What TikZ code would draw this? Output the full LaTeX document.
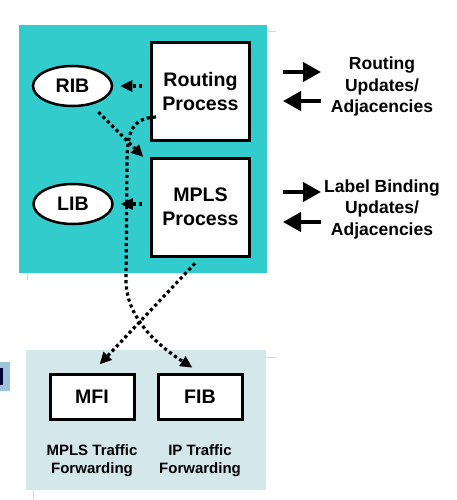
\documentclass[tikz,border=0pt]{standalone}
\usepackage{fontspec}
\setmainfont{Liberation Sans}
\usetikzlibrary{arrows.meta,shapes.geometric}
\definecolor{teal1}{HTML}{33CCCC}
\definecolor{lblue}{HTML}{D4E8EC}
\definecolor{pblue}{HTML}{9DC3DC}
\begin{document}
\begin{tikzpicture}[x=1pt,y=-1pt,
 boxn/.style={draw,line width=3pt,fill=white,align=center,font=\bfseries\fontsize{19.6}{23.5}\selectfont,minimum width=98pt,minimum height=98pt,inner sep=0},
 ell/.style={draw,ellipse,line width=2.5pt,fill=white,minimum width=79pt,minimum height=40pt,inner sep=0,font=\bfseries\fontsize{19.6}{22}\selectfont},
 fbox/.style={draw,line width=3pt,fill=white,minimum width=84pt,minimum height=45pt,inner sep=0,font=\bfseries\fontsize{19.6}{22}\selectfont},
 dotarr/.style={line width=3.2pt,dash pattern=on 3.2pt off 3pt,-{Triangle[length=12pt,width=11pt]}},
 bigarr/.style={line width=4pt,-{Triangle[length=18pt,width=19pt]}},
 rtext/.style={align=center,font=\bfseries\fontsize{17.5}{21.5}\selectfont},
 btext/.style={align=center,font=\bfseries\fontsize{15}{18}\selectfont},
 faint/.style={draw=black!15,line width=1pt}]
\useasboundingbox (0,0) rectangle (456,500);
% backgrounds
\fill[teal1] (19,25) rectangle (267,273);
\fill[lblue] (26,350) rectangle (266,490);
\fill[pblue] (0,362) rectangle (10,391);
\fill[black!80!blue] (0,368) rectangle (3,385);
\draw[faint] (267,32) -- (276,32);
\draw[faint] (27,273) -- (27,280);
\draw[faint] (266,357) -- (276,357);
\draw[faint] (33,490) -- (33,500);
% nodes
\node[boxn] (rp) at (200.5,91.5) {Routing\\Process};
\node[boxn] (mp) at (200.5,207) {MPLS\\Process};
\node[ell] (rib) at (72.5,86) {RIB};
\node[ell] (lib) at (73,204) {LIB};
\node[fbox] (mfi) at (92,396.5) {MFI};
\node[fbox] (fib) at (200,396.5) {FIB};
\node[btext] (t1) at (92,460.5) {MPLS Traffic\\Forwarding};
\node[btext] (t2) at (200,460.5) {IP Traffic\\Forwarding};
\node[rtext] (r1) at (382,86.5) {Routing\\Updates/\\Adjacencies};
\node[rtext] (r2) at (382,209) {Label Binding\\Updates/\\Adjacencies};
% big arrows
\coordinate (a1s) at (283,72); \coordinate (a1e) at (321,72);
\coordinate (a2s) at (321,101); \coordinate (a2e) at (283,101);
\coordinate (a3s) at (283,192); \coordinate (a3e) at (321,192);
\coordinate (a4s) at (321,222); \coordinate (a4e) at (283,222);
\draw[bigarr] (a1s) -- (a1e);
\draw[bigarr] (a2s) -- (a2e);
\draw[bigarr] (a3s) -- (a3e);
\draw[bigarr] (a4s) -- (a4e);
% dotted connectors
\draw[dotarr,shorten <=8pt,shorten >=7pt] (rp.west |- rib.east) -- (rib.east);
\draw[dotarr,shorten <=8pt,shorten >=7pt] (mp.west |- lib.east) -- (lib.east);
\draw[dotarr] (rib.south east) ++(-3,11) -- ++(45,45);
\coordinate (cs) at (156,117);
\draw[dotarr,shorten >=9pt] (cs) .. controls (130,118) and (127,135) .. (127,165) -- (126,280) .. controls (126,322) and (165,350) .. (fib.north);
\draw[dotarr,shorten <=8pt,shorten >=11pt] (mp.south) -- (mfi.north);
\end{tikzpicture}
\end{document}
